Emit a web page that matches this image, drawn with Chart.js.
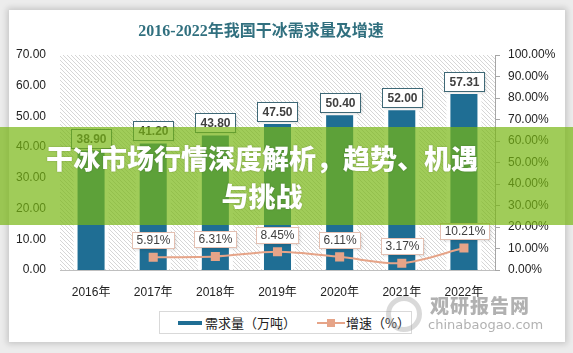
<!DOCTYPE html>
<html><head><meta charset="utf-8">
<script src="https://cdn.jsdelivr.net/npm/chart.js@4/dist/chart.umd.min.js"></script>
<style>
html,body{margin:0;padding:0;}
body{width:573px;height:353px;background:#ececec;position:relative;overflow:hidden;font-family:"Liberation Sans","Noto Sans CJK SC",sans-serif;}
#card{position:absolute;left:9px;top:10px;width:556px;height:332px;background:#fff;box-shadow:0 0 6px 2px rgba(0,0,0,0.16);}
#c{position:absolute;left:0;top:0;}
#title{position:absolute;left:61px;width:400px;top:20px;text-align:center;font:bold 16px "Liberation Serif","Noto Sans CJK SC",serif;color:#31707f;line-height:22px;}
#legend{position:absolute;left:159px;top:311px;width:251px;height:21px;border:1px solid #d9d9d9;background:#fff;font:13px "Noto Sans CJK SC",sans-serif;color:#222;}
#legend .it{position:absolute;top:0;height:21px;line-height:21px;white-space:nowrap;}
#wm{position:absolute;left:380px;top:294px;width:160px;height:44px;color:rgba(125,125,125,0.6);}
#wm .ring{position:absolute;left:6px;top:2px;width:36px;height:36px;border-radius:50%;border:5px solid rgba(160,160,160,0.4);box-sizing:border-box;}
#wm .t1{position:absolute;left:50px;top:0;font:900 19px "Noto Sans CJK SC",sans-serif;line-height:22px;letter-spacing:1px;}
#wm .t2{position:absolute;left:48px;top:23px;font:13px "DejaVu Sans",sans-serif;line-height:16px;}
#banner{position:absolute;left:0;top:127px;width:573px;height:98px;background:rgba(119,183,19,0.7);z-index:5;}
#btext{position:absolute;left:25px;width:474px;top:12px;text-align:center;color:#fff;font:900 27px "Noto Sans CJK SC",sans-serif;line-height:38px;text-shadow:0 0 2px rgba(0,0,0,0.25);}
</style></head>
<body>
<div id="card"></div>
<canvas id="c" width="573" height="353"></canvas>
<div id="title">2016-2022年我国干冰需求量及增速</div>
<div id="legend"></div>
<div id="wm"><div class="ring"></div><div class="t1">观研报告网</div><div class="t2">chinabaogao.com</div></div>
<div id="banner"><div id="btext">干冰市场行情深度解析，趋势、机遇<br>与挑战</div></div>
<script>
const categories = ['2016年','2017年','2018年','2019年','2020年','2021年','2022年'];
const demand = [38.90, 41.20, 43.80, 47.50, 50.40, 52.00, 57.31];
const growth = [null, 5.91, 6.31, 8.45, 6.11, 3.17, 10.21];
const demandLabel = '需求量（万吨）';
const growthLabel = '增速（%）';
const leftTicks = [0,10,20,30,40,50,60,70];
const rightTicks = [0,10,20,30,40,50,60,70,80,90,100];

const BAR = '#1f6e94', LINE = '#e6a488';

// hatch pattern
const pc = document.createElement('canvas'); pc.width = 4; pc.height = 4;
const g = pc.getContext('2d');
g.strokeStyle = '#d6d6d6'; g.lineWidth = 1;
g.beginPath(); g.moveTo(0,0); g.lineTo(4,4); g.moveTo(-2,2); g.lineTo(2,6); g.moveTo(2,-2); g.lineTo(6,2); g.stroke();
const ctx0 = document.getElementById('c').getContext('2d');
const hatch = ctx0.createPattern(pc, 'repeat');

function box(ctx, cx, bottom, text, font, h, padX, border, color){
  ctx.font = font;
  const w = ctx.measureText(text).width + padX*2;
  const x = Math.round(cx - w/2) + 0.5, y = Math.round(bottom - h) + 0.5;
  ctx.save();
  ctx.shadowColor = 'rgba(0,0,0,0.18)'; ctx.shadowBlur = 3; ctx.shadowOffsetX = 1; ctx.shadowOffsetY = 1;
  ctx.fillStyle = '#fff'; ctx.fillRect(x, y, Math.round(w), h);
  ctx.restore();
  ctx.strokeStyle = border; ctx.lineWidth = 1; ctx.strokeRect(x, y, Math.round(w), h);
  ctx.fillStyle = color; ctx.textAlign = 'center'; ctx.textBaseline = 'middle';
  ctx.fillText(text, x + Math.round(w)/2, y + h/2 + 0.5);
}

const plugin = {
  id: 'deco',
  beforeDraw(chart){
    const {ctx, chartArea:a} = chart;
    ctx.save(); ctx.fillStyle = hatch;
    ctx.fillRect(a.left, a.top, a.right - a.left, a.bottom - a.top);
    ctx.restore();
  },
  beforeDatasetsDraw(chart){
    const ctx = chart.ctx;
    ctx.save(); ctx.fillStyle = '#fff';
    chart.getDatasetMeta(0).data.forEach(b => {
      const p = b.getProps(['x','y','width','base'], true);
      ctx.fillRect(p.x - p.width/2 - 4, p.y - 4, p.width + 8, p.base - p.y + 3);
    });
    ctx.restore();
  },
  afterDatasetsDraw(chart){
    const ctx = chart.ctx;
    ctx.save();
    chart.getDatasetMeta(0).data.forEach((b,i) => {
      box(ctx, b.x, b.y - 3, demand[i].toFixed(2), 'bold 12px "Liberation Sans", Arial, sans-serif', 19, 5, '#3e6876', '#404040');
    });
    chart.getDatasetMeta(1).data.forEach((pt,i) => {
      if (growth[i] == null) return;
      box(ctx, pt.x, pt.y - 9, growth[i].toFixed(2) + '%', '12px "Liberation Sans", Arial, sans-serif', 16, 4, '#e3c0b2', '#404040');
    });
    ctx.restore();
  }
};

const chart = new Chart(document.getElementById('c'), {
  type: 'bar',
  data: {
    labels: categories,
    datasets: [
      {type:'bar', label: demandLabel, data: demand, backgroundColor: BAR, yAxisID:'y',
       categoryPercentage: 1, barPercentage: 0.435, order: 2},
      {type:'line', label: growthLabel, data: growth, borderColor: LINE, backgroundColor: LINE, yAxisID:'y1',
       borderWidth: 2, pointStyle:'rect', pointRadius: 5, pointHoverRadius: 5, tension: 0.3, order: 1}
    ]
  },
  options: {
    responsive: false, animation: false, devicePixelRatio: 1,
    layout: {padding: {top: 55, right: 13, left: 0, bottom: 0}},
    plugins: {legend:{display:false}, title:{display:false}, tooltip:{enabled:false}},
    scales: {
      x: {
        grid: {display:false, drawTicks:false},
        border: {display:true, color:'#bfbfbf'},
        ticks: {padding: 15, color:'#222', font:{size:12, family:'"Liberation Sans","Noto Sans CJK SC",sans-serif'}},
        afterFit(s){ s.height = 83; }
      },
      y: {
        position:'left', min:0, max:70,
        afterBuildTicks(s){ s.ticks = leftTicks.map(v=>({value:v})); },
        grid: {display:false, drawTicks:false},
        border: {display:false},
        ticks: {padding: 14, color:'#222', font:{size:12, family:'"Liberation Sans",sans-serif'}, callback: v => v.toFixed(2)},
        afterFit(s){ s.width = 60; }
      },
      y1: {
        position:'right', min:0, max:100,
        afterBuildTicks(s){ s.ticks = rightTicks.map(v=>({value:v})); },
        grid: {drawOnChartArea:false, drawTicks:true, tickLength:5, color:'#a6a6a6'},
        border: {display:true, color:'#a6a6a6'},
        ticks: {padding: 8, color:'#222', font:{size:12, family:'"Liberation Sans",sans-serif'}, callback: v => v.toFixed(2) + '%'},
        afterFit(s){ s.width = 65; }
      }
    }
  },
  plugins: [plugin]
});

// legend built from datasets
const lg = document.getElementById('legend');
const ds = chart.data.datasets;
lg.innerHTML =
  '<div class="it" style="left:18px"><span style="display:inline-block;width:24px;height:4px;background:'+ds[0].backgroundColor+';vertical-align:middle;margin-right:3px;position:relative;top:-1px"></span>'+ds[0].label+'</div>' +
  '<div class="it" style="left:157px"><span style="display:inline-block;width:28px;height:2px;background:'+ds[1].borderColor+';vertical-align:middle;position:relative;top:-1px;margin-right:1px"><span style="position:absolute;left:10px;top:-3px;width:8px;height:8px;background:'+ds[1].borderColor+'"></span></span>'+ds[1].label+'</div>';
</script>
</body></html>
